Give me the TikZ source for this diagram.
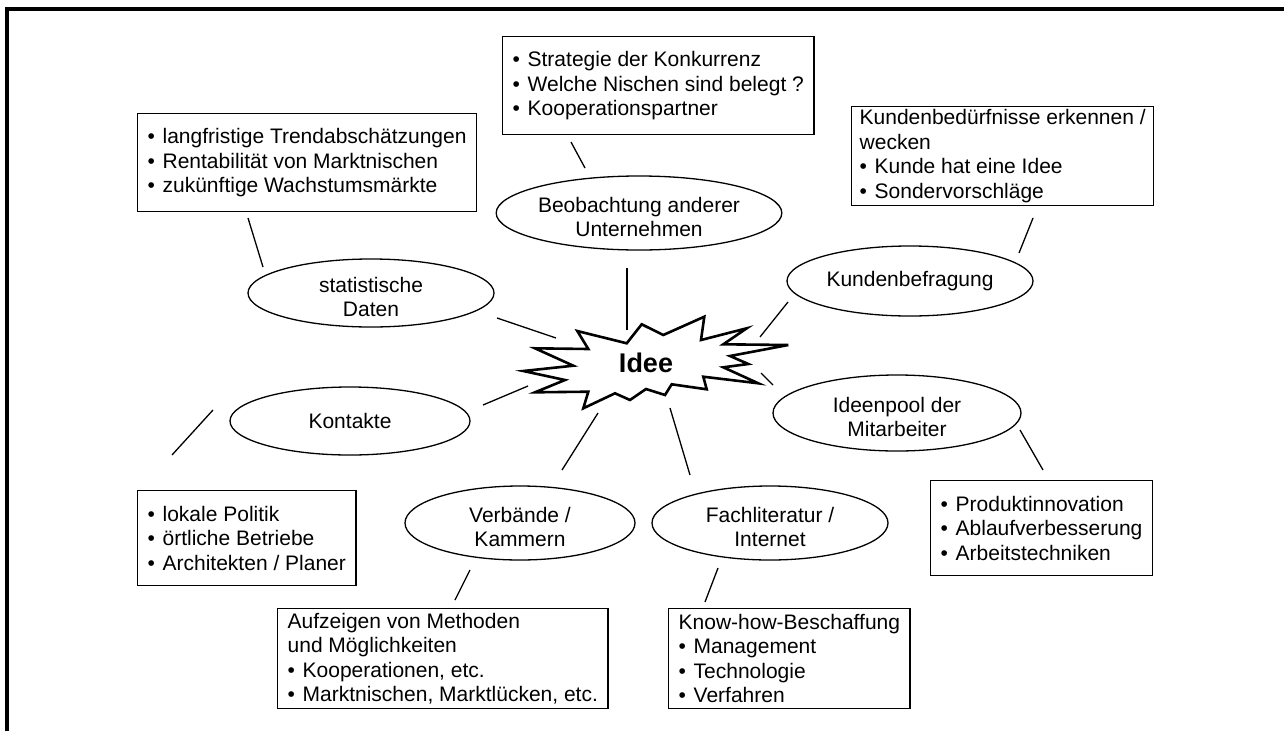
\documentclass[tikz,border=0pt]{standalone}
\usepackage{fontspec}
\setmainfont{Liberation Sans}
\usetikzlibrary{shapes.geometric}
\newcommand\blt{\makebox[15pt][l]{•}}
\tikzset{
  txt/.style={font=\fontsize{21}{24.5}\selectfont},
  note/.style={txt, draw, line width=1.3pt, anchor=north west, inner xsep=10pt, inner ysep=0pt, align=left},
  topic/.style={txt, draw, ellipse, line width=1.3pt, inner sep=0pt, align=center},
  twoline/.style={text height=47.5pt},
  link/.style={line width=1.3pt},
  burst/.style={draw, line width=2.6pt, line join=miter, fill=white},
  frame/.style={line width=4pt},
}
\begin{document}
\begin{tikzpicture}[x=1pt, y=-1pt]
\useasboundingbox (0,0) rectangle (1284,731);
\fill[white] (0,0) rectangle (1284,731);
% outer frame (left and top edges)
\draw[frame] (7,731) -- (7,8.5) -- (1284,8.5);

% central burst
\draw[burst] (626.7,343.3) -- (641.7,324.3) -- (663.3,335) -- (704.3,316.7) -- (701,340)
  -- (746.7,328.3) -- (723.3,344.3) -- (788.3,345) -- (730,356) -- (748.3,364)
  -- (723.3,367.3) -- (758.3,383.3) -- (703.3,376.7) -- (706.7,389.3) -- (671.7,384.3)
  -- (665,395) -- (646,389) -- (630,400) -- (615,393.3) -- (583.3,408.3) -- (588.3,391.7)
  -- (535,392.3) -- (565,380) -- (523.3,371) -- (573.3,365.7) -- (535,348.3)
  -- (588.3,349) -- (577.3,331) -- cycle;
\node[font=\bfseries\fontsize{27}{30}\selectfont] (idee) at (646,363) {Idee};

% topics
\node[topic, twoline, minimum width=246pt, minimum height=68pt] (stat) at (371,293) {statistische\\Daten};
\node[topic, twoline, minimum width=280pt, minimum height=74pt] (beob) at (639,213) {Beobachtung anderer\\Unternehmen};
\node[topic, minimum width=246pt, minimum height=70pt] (kunden) at (910,281) {Kundenbefragung};
\node[topic, minimum width=240pt, minimum height=68pt] (kontakte) at (350,421) {Kontakte};
\node[topic, twoline, minimum width=248pt, minimum height=76pt] (ideen) at (897,413) {Ideenpool der\\Mitarbeiter};
\node[topic, twoline, minimum width=230pt, minimum height=74pt] (verb) at (520,523) {Verbände /\\Kammern};
\node[topic, twoline, minimum width=236pt, minimum height=74pt] (fach) at (770,523) {Fachliteratur /\\Internet};

% notes
\node[note, minimum height=98pt] (nstat) at (137,113)
  {\blt langfristige Trendabschätzungen\\\blt Rentabilität von Marktnischen\\\blt zukünftige Wachstumsmärkte};
\node[note, minimum height=98pt] (nbeob) at (502,36)
  {\blt Strategie der Konkurrenz\\\blt Welche Nischen sind belegt ?\\\blt Kooperationspartner};
\node[note, minimum height=99pt, inner xsep=8pt] (nkunden) at (851,106)
  {Kundenbedürfnisse erkennen /\\wecken\\\blt Kunde hat eine Idee\\\blt Sondervorschläge};
\node[note, minimum height=95pt] (nkontakte) at (137,490)
  {\blt lokale Politik\\\blt örtliche Betriebe\\\blt Architekten / Planer};
\node[note, minimum height=100pt] (nverb) at (277,608)
  {Aufzeigen von Methoden\\und Möglichkeiten\\\blt Kooperationen, etc.\\\blt Marktnischen, Marktlücken, etc.};
\node[note, minimum height=100pt] (nfach) at (668,608)
  {Know-how-Beschaffung\\\blt Management\\\blt Technologie\\\blt Verfahren};
\node[note, minimum height=95pt] (nideen) at (930,480)
  {\blt Produktinnovation\\\blt Ablaufverbesserung\\\blt Arbeitstechniken};

% connector end points
\coordinate (s1) at (248,218);   \coordinate (s2) at (263,267);
\coordinate (s3) at (497,318);   \coordinate (s4) at (556,338);
\coordinate (b1) at (571,142);   \coordinate (b2) at (585,168);
\coordinate (b3) at (627,268);   \coordinate (b4) at (627,330);
\coordinate (k1) at (1033,218);  \coordinate (k2) at (1019,253);
\coordinate (k3) at (788,302);   \coordinate (k4) at (760,337);
\coordinate (i1) at (761,373);   \coordinate (i2) at (773,385);
\coordinate (i3) at (1020,430);  \coordinate (i4) at (1043,470);
\coordinate (t1) at (483,405);   \coordinate (t2) at (528,386);
\coordinate (t3) at (213,410);   \coordinate (t4) at (172,455);
\coordinate (v1) at (598,413);   \coordinate (v2) at (562,470);
\coordinate (v3) at (470,570);   \coordinate (v4) at (455,600);
\coordinate (f1) at (670,408);   \coordinate (f2) at (690,475);
\coordinate (f3) at (718,568);   \coordinate (f4) at (705,602);

\draw[link] (s1) -- (s2);  \draw[link] (s3) -- (s4);
\draw[link] (b1) -- (b2);  \draw[link] (b3) -- (b4);
\draw[link] (k1) -- (k2);  \draw[link] (k3) -- (k4);
\draw[link] (i1) -- (i2);  \draw[link] (i3) -- (i4);
\draw[link] (t1) -- (t2);  \draw[link] (t3) -- (t4);
\draw[link] (v1) -- (v2);  \draw[link] (v3) -- (v4);
\draw[link] (f1) -- (f2);  \draw[link] (f3) -- (f4);
\end{tikzpicture}
\end{document}
